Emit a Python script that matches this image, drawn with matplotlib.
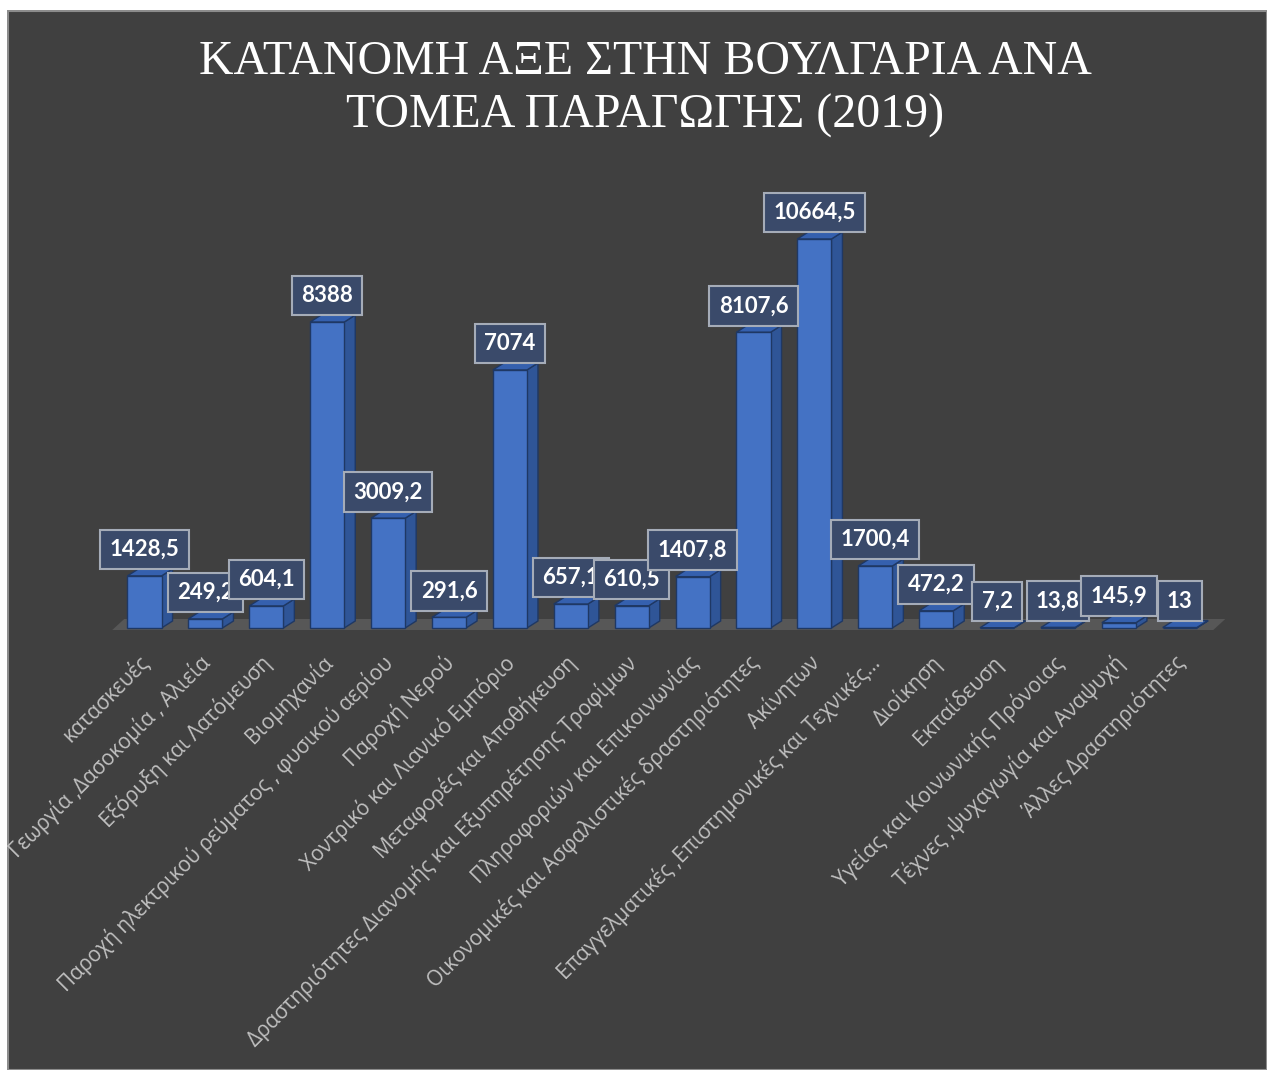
import matplotlib
matplotlib.use('Agg')
import matplotlib.pyplot as plt
from matplotlib.patches import Polygon, Rectangle
from matplotlib.transforms import ScaledTranslation

categories = [
    "κατασκευές",
    "Γεωργία ,Δασοκομία , Αλιεία",
    "Εξόρυξη και Λατόμευση",
    "Βιομηχανία",
    "Παροχή ηλεκτρικού ρεύματος , φυσικού αερίου",
    "Παροχή Νερού",
    "Χοντρικό και Λιανικό Εμπόριο",
    "Μεταφορές και Αποθήκευση",
    "Δραστηριότητες Διανομής και Εξυπηρέτησης Τροφίμων",
    "Πληροφοριών και Επικοινωνίας",
    "Οικονομικές και Ασφαλιστικές δραστηριότητες",
    "Ακίνητων",
    "Επαγγελματικές ,Επιστημονικές και Τεχνικές…",
    "Διοίκηση",
    "Εκπαίδευση",
    "Υγείας και Κοινωνικής Πρόνοιας",
    "Τέχνες ,ψυχαγωγία και Αναψυχή",
    "Άλλες Δραστηριότητες",
]
values = [1428.5, 249.2, 604.1, 8388, 3009.2, 291.6, 7074, 657.1, 610.5,
          1407.8, 8107.6, 10664.5, 1700.4, 472.2, 7.2, 13.8, 145.9, 13]
value_labels = ["1428,5", "249,2", "604,1", "8388", "3009,2", "291,6", "7074",
                "657,1", "610,5", "1407,8", "8107,6", "10664,5", "1700,4",
                "472,2", "7,2", "13,8", "145,9", "13"]
title_lines = ["ΚΑΤΑΝΟΜΗ ΑΞΕ ΣΤΗΝ ΒΟΥΛΓΑΡΙΑ ΑΝΑ", "ΤΟΜΕΑ ΠΑΡΑΓΩΓΗΣ (2019)"]

W, H = 1267, 1070
fig = plt.figure(figsize=(W / 100, H / 100), dpi=100, facecolor='white')

bg = Rectangle((8 / W, 0), 1 - 8 / W, 1 - 11 / H, transform=fig.transFigure,
               facecolor='#404040', edgecolor='#8c8c8c', lw=1.5, zorder=-10)
fig.add_artist(bg)

# geometry (pixels)
px_per_unit = 0.036476
px_per_idx = 60.9
x0_px, base_px, top_px = 144.5, 628, 180
left_px, right_px = 100, 1230

ax = fig.add_axes([left_px / W, (H - base_px) / H, (right_px - left_px) / W,
                   (base_px - top_px) / H])
ax.set_facecolor('none')
ax.set_xlim((left_px - x0_px) / px_per_idx, (right_px - x0_px) / px_per_idx)
ax.set_ylim(0, (base_px - top_px) / px_per_unit)
for s in ax.spines.values():
    s.set_visible(False)

n = len(values)
w = 0.56
dx = 11 / px_per_idx
dy = 7 / px_per_unit

# floor
fb = -2 / px_per_unit
ft = 9 / px_per_unit
floor = Polygon([(-0.53, fb), (n - 1 + 0.55, fb), (n - 1 + 0.55 + 12 / px_per_idx, ft),
                 (-0.53 + 12 / px_per_idx, ft)], closed=True,
                facecolor='#575757', edgecolor='none', zorder=1, clip_on=False)
ax.add_patch(floor)

edge = '#1F3864'
for i, v in enumerate(values):
    xl, xr = i - w / 2, i + w / 2
    side = Polygon([(xr, 0), (xr + dx, dy), (xr + dx, v + dy), (xr, v)], closed=True,
                   facecolor='#2F5597', edgecolor=edge, lw=1, zorder=2 + i * 0.01,
                   clip_on=False)
    top = Polygon([(xl, v), (xr, v), (xr + dx, v + dy), (xl + dx, v + dy)], closed=True,
                  facecolor='#3560AE', edgecolor=edge, lw=1, zorder=2 + i * 0.01,
                  clip_on=False)
    ax.add_patch(side)
    ax.add_patch(top)
    ax.bar(i, v, width=w, color='#4472C4', edgecolor=edge, lw=1,
           zorder=2.005 + i * 0.01, clip_on=False)

for i, (v, lbl) in enumerate(zip(values, value_labels)):
    ax.annotate(lbl, xy=(i, v), xytext=(0, 19), textcoords='offset points',
                ha='center', va='center', fontsize=16, fontweight='bold',
                color='white', family='Lato',
                bbox=dict(boxstyle='square,pad=0.42', fc='#3A4A6A', ec='#A5ACB8',
                          lw=1.5),
                zorder=5 + i * 0.01, annotation_clip=False)

ax.set_yticks([])
ax.set_xticks(range(n))
ax.set_xticklabels(categories, rotation=45, ha='right', rotation_mode='anchor',
                   color='#C0C0C0', fontsize=15, family='Open Sans')
ax.tick_params(axis='x', length=0, pad=17)
shift = ScaledTranslation(-6 / 100, 0, fig.dpi_scale_trans)
for lab in ax.get_xticklabels():
    lab.set_transform(lab.get_transform() + shift)

# white margins covering overflow
fig.add_artist(Rectangle((0, 0), 7 / W, 1, transform=fig.transFigure,
                         facecolor='white', edgecolor='none', zorder=10))
fig.add_artist(Rectangle((0, 1 - 10 / H), 1, 10 / H, transform=fig.transFigure,
                         facecolor='white', edgecolor='none', zorder=10))

cx = 645 / W
fig.text(cx, (H - 74) / H, title_lines[0], ha='center', va='baseline',
         fontsize=34.5, family='Liberation Serif', color='white')
fig.text(cx, (H - 128) / H, title_lines[1], ha='center', va='baseline',
         fontsize=34.5, family='Liberation Serif', color='white')

fig.savefig('out.png', dpi=100, facecolor='white')
